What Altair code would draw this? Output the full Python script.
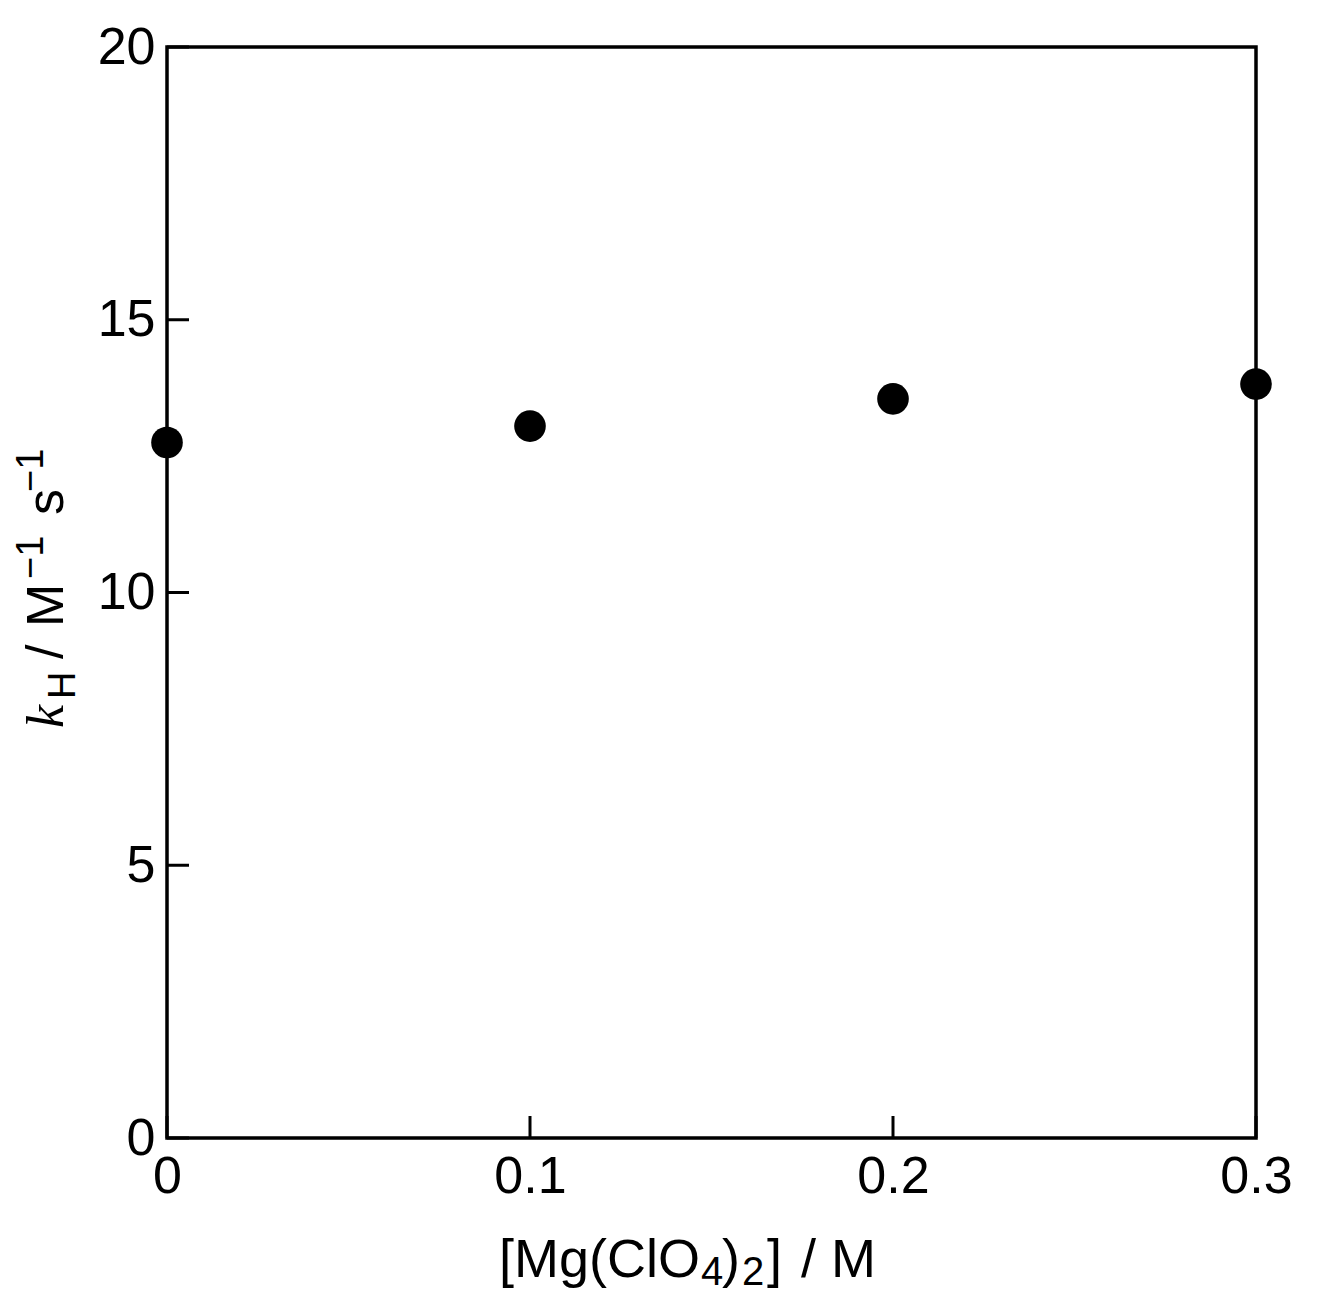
import altair as alt
import pandas as pd

# data
conc = [0.0, 0.1, 0.2, 0.3]
kH = [12.75, 13.05, 13.55, 13.82]
x_ticks = [0.0, 0.1, 0.2, 0.3]
y_ticks = [0, 5, 10, 15, 20]

W, H = 1089, 1091
FONT = "Liberation Sans"

pts = pd.DataFrame({"conc": conc, "kH": kH})
xt = pd.DataFrame({"t": x_ticks})
yt = pd.DataFrame({"t": y_ticks})

xscale = alt.Scale(domain=[0, 0.3], nice=False, zero=False)
yscale = alt.Scale(domain=[0, 20], nice=False)

xaxis = alt.Axis(values=x_ticks, format="~g", title=None, ticks=False, domain=False,
                 grid=False, labelFont=FONT, labelFontSize=52, labelColor="black",
                 labelPadding=13, labelFlush=False, labelOverlap=False)
yaxis = alt.Axis(values=y_ticks, format="d", title=None, ticks=False, domain=False,
                 grid=False, labelFont=FONT, labelFontSize=52, labelColor="black",
                 labelPadding=12, labelFlush=False, labelOverlap=False)

base = alt.Chart(pts)

points = base.mark_circle(size=1000, color="black", opacity=1).encode(
    x=alt.X("conc:Q", scale=xscale, axis=xaxis),
    y=alt.Y("kH:Q", scale=yscale, axis=yaxis),
)

yticks = alt.Chart(yt).mark_rule(color="black", strokeWidth=3).encode(
    y=alt.Y("t:Q", scale=yscale),
    x=alt.value(0), x2=alt.value(22),
)
xticks = alt.Chart(xt).mark_rule(color="black", strokeWidth=3).encode(
    x=alt.X("t:Q", scale=xscale),
    y=alt.value(H), y2=alt.value(H - 22),
)

def txt(s, x, y, size, angle=0, font=FONT, style="normal"):
    return alt.Chart(pd.DataFrame({"s": [s]})).mark_text(
        align="left", baseline="alphabetic", font=font, fontSize=size,
        fontStyle=style, angle=angle, color="black"
    ).encode(text="s:N", x=alt.value(x), y=alt.value(y))

# x title pieces: [Mg(ClO4)2] / M
xb, xs = 1230, 1238
xtitle = [
    txt("[Mg(ClO", 332, xb, 54),
    txt("4", 534, xs, 40),
    txt(")", 555, xb, 54),
    txt("2", 575, xs, 40),
    txt("]", 600, xb, 54),
    txt("/", 634, xb, 54),
    txt("M", 664, xb, 54),
]

# y title pieces: kH / M-1 s-1 (rotated)
yb, ysub, ysup = -104, -92, -124
ytitle = [
    txt("k", yb, 681, 52, angle=270, font="Liberation Serif", style="italic"),
    txt("H", ysub, 652, 38, angle=270),
    txt("/", yb, 612, 52, angle=270),
    txt("M", yb, 580, 52, angle=270),
    txt("\u22121", ysup, 532, 38, angle=270),
    txt("s", yb, 468, 52, angle=270),
    txt("\u22121", ysup, 445, 38, angle=270),
]

chart = alt.layer(points, yticks, xticks, *xtitle, *ytitle).properties(
    width=W, height=H,
    autosize=alt.AutoSizeParams(type="none"),
    padding={"left": 159, "top": 39, "right": 53, "bottom": 160},
    background="white",
).configure_view(stroke="black", strokeWidth=3.5)

chart.save("out.html", embed_options={"renderer": "svg", "actions": False})
